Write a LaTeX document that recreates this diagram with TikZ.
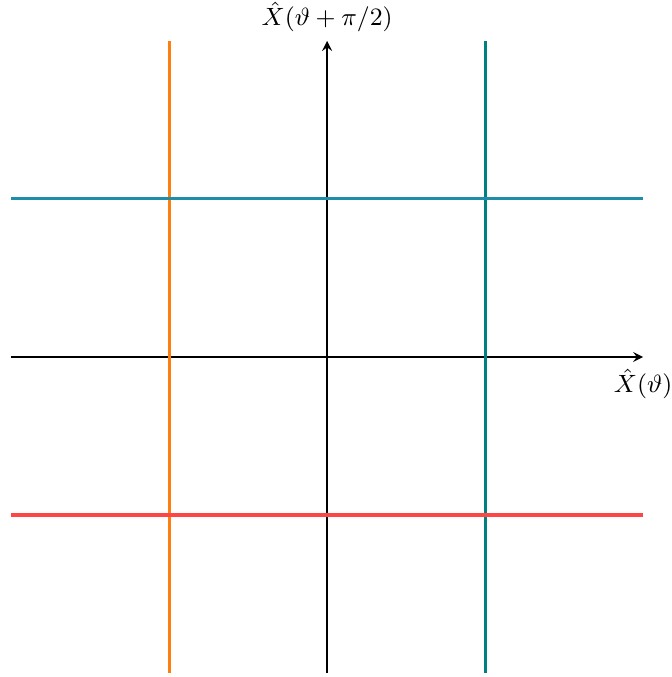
\documentclass[tikz,border=0pt]{standalone}
\usetikzlibrary{arrows,positioning}

\definecolor{lineorange}{RGB}{255,127,14}
\definecolor{lineteal}{RGB}{0,128,128}
\definecolor{lineblue}{RGB}{31,140,170}
\definecolor{linered}{RGB}{255,70,70}

\begin{document}
\begin{tikzpicture}[
    x=2cm,
    y=2cm,
    axis/.style={
        draw=black,
        -stealth,
        line width=0.6pt
    },
    quad/.style={
        line width=1.1pt
    },
    label/.style={
        inner sep=3pt,
        font=\small
    }
]
    \useasboundingbox (-2.070,-2.025) rectangle (2.177,2.259);

    % --- Axes ---
    \coordinate (xstart) at (-2,0);
    \coordinate (xend) at (2,0);
    \coordinate (ystart) at (0,-2);
    \coordinate (yend) at (0,2);
    \draw [axis] (xstart) -- (xend);
    \draw [axis] (ystart) -- (yend);
    \node [label, below=1pt of xend] (xlabel) {$\hat{X}(\vartheta)$};
    \node [label, above=0pt of yend] (ylabel) {$\hat{X}(\vartheta+\pi/2)$};

    % --- Vertical lines ---
    \draw [quad, lineorange] (-1,-2) -- (-1,2);
    \draw [quad, lineteal] (1,-2) -- (1,2);

    % --- Horizontal lines ---
    \draw [quad, lineblue] (-2,1) -- (2,1);
    \draw [quad, linered] (-2,-1) -- (2,-1);

\end{tikzpicture}
\end{document}
